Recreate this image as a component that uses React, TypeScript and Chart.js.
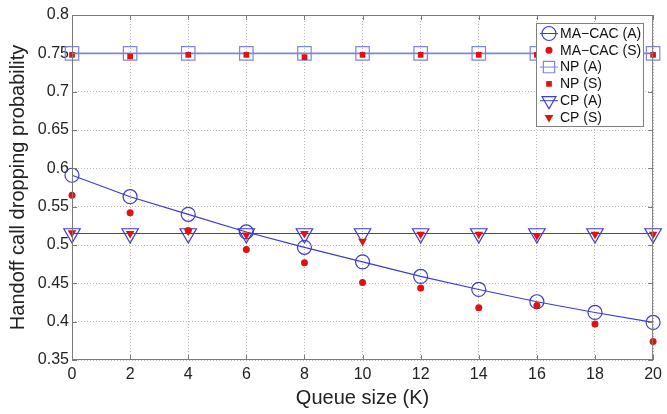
import React, { useEffect, useRef } from "react";
import { Chart, registerables } from "chart.js";

Chart.register(...registerables);

const queueSizes = [0, 2, 4, 6, 8, 10, 12, 14, 16, 18, 20];
const macacAnalytic = [0.591, 0.563, 0.54, 0.517, 0.497, 0.478, 0.459, 0.442, 0.426, 0.412, 0.399];
const macacSim = [0.565, 0.542, 0.519, 0.494, 0.477, 0.451, 0.444, 0.418, 0.421, 0.397, 0.374];
const npAnalytic = [0.75, 0.75, 0.75, 0.75, 0.75, 0.75, 0.75, 0.75, 0.75, 0.75, 0.75];
const npSim = [0.748, 0.746, 0.748, 0.748, 0.745, 0.748, 0.748, 0.748, 0.748, 0.748, 0.748];
const cpAnalytic = [0.515, 0.515, 0.515, 0.515, 0.515, 0.515, 0.515, 0.515, 0.515, 0.515, 0.515];
const cpSim = [0.516, 0.515, 0.518, 0.513, 0.515, 0.505, 0.514, 0.514, 0.512, 0.514, 0.514];
const legendLabels = ["MA\u2212CAC (A)", "MA\u2212CAC (S)", "NP (A)", "NP (S)", "CP (A)", "CP (S)"];
const xTicks = [0, 2, 4, 6, 8, 10, 12, 14, 16, 18, 20];
const yTicks = [0.35, 0.4, 0.45, 0.5, 0.55, 0.6, 0.65, 0.7, 0.75, 0.8];

const BLUE = "#3c3cd0";
const NPBLUE = "#7d86d8";
const RED = "#e41010";
const FONT = "'Liberation Sans', Arial, Helvetica, sans-serif";

const pts = (ys: number[]) => queueSizes.map((x, i) => ({ x, y: ys[i] }));

function marker(ctx: CanvasRenderingContext2D, style: string, r: number, x: number, y: number, fill: boolean) {
  ctx.beginPath();
  if (style === "circle") {
    ctx.arc(x, y, r, 0, Math.PI * 2);
  } else if (style === "rect") {
    const s = r * Math.SQRT1_2;
    ctx.rect(x - s, y - s, 2 * s, 2 * s);
  } else {
    const h = (Math.sqrt(3) / 2) * r;
    ctx.moveTo(x - h, y - r / 2);
    ctx.lineTo(x + h, y - r / 2);
    ctx.lineTo(x, y + r);
    ctx.closePath();
  }
  if (fill) ctx.fill();
  else ctx.stroke();
}

const frameAndLegend = {
  id: "frameAndLegend",
  afterDraw(chart: any) {
    const { ctx, chartArea, scales } = chart;
    const { left, right, top, bottom } = chartArea;
    ctx.save();
    ctx.strokeStyle = "#7a7a7a";
    ctx.lineWidth = 1;
    ctx.strokeRect(left + 0.5, top + 0.5, right - left - 1, bottom - top - 1);
    // inward tick marks
    ctx.beginPath();
    xTicks.forEach((v) => {
      const px = Math.round(scales.x.getPixelForValue(v)) + 0.5;
      ctx.moveTo(px, bottom);
      ctx.lineTo(px, bottom - 5);
      ctx.moveTo(px, top);
      ctx.lineTo(px, top + 5);
    });
    yTicks.forEach((v) => {
      const py = Math.round(scales.y.getPixelForValue(v)) + 0.5;
      ctx.moveTo(left, py);
      ctx.lineTo(left + 5, py);
      ctx.moveTo(right, py);
      ctx.lineTo(right - 5, py);
    });
    ctx.stroke();

    // legend
    const bx = 536, by = 23, bw = 107, bh = 103;
    ctx.fillStyle = "#ffffff";
    ctx.fillRect(bx, by, bw, bh);
    ctx.strokeStyle = "#808080";
    ctx.strokeRect(bx + 0.5, by + 0.5, bw, bh);
    const rowY0 = 33.5, rowH = 16.8;
    chart.data.datasets.forEach((ds: any, i: number) => {
      const y = rowY0 + i * rowH;
      const mx = 549;
      if (ds.showLine) {
        ctx.strokeStyle = ds.borderColor;
        ctx.lineWidth = 1;
        ctx.beginPath();
        ctx.moveTo(540, y);
        ctx.lineTo(558, y);
        ctx.stroke();
      }
      const filled = !ds.showLine;
      ctx.strokeStyle = ds.pointBorderColor;
      ctx.fillStyle = ds.pointBackgroundColor;
      ctx.lineWidth = 1.2;
      marker(ctx, ds.pointStyle, Math.min(ds.pointRadius, 8), mx, y, filled);
      ctx.fillStyle = "#111";
      ctx.font = `14px ${FONT}`;
      ctx.textBaseline = "middle";
      ctx.textAlign = "left";
      ctx.fillText(legendLabels[i], 560, y + 0.5);
    });
    ctx.restore();
  },
};

export default function App() {
  const ref = useRef<HTMLCanvasElement>(null);
  useEffect(() => {
    const chart = new Chart(ref.current!, {
      type: "scatter",
      data: {
        datasets: [
          { label: legendLabels[0], data: pts(macacAnalytic), showLine: true, borderColor: BLUE, borderWidth: 1.2, pointStyle: "circle", pointRadius: 7, pointBorderColor: BLUE, pointBackgroundColor: "rgba(0,0,0,0)", pointBorderWidth: 1.2, order: 2, clip: false },
          { label: legendLabels[1], data: pts(macacSim), showLine: false, pointStyle: "circle", pointRadius: 3.5, pointBorderColor: RED, pointBackgroundColor: RED, pointBorderWidth: 0, order: 1, clip: false },
          { label: legendLabels[2], data: pts(npAnalytic), showLine: true, borderColor: NPBLUE, borderWidth: 1.6, pointStyle: "rect", pointRadius: 9.5, pointBorderColor: NPBLUE, pointBackgroundColor: "rgba(0,0,0,0)", pointBorderWidth: 1.2, order: 2, clip: false },
          { label: legendLabels[3], data: pts(npSim), showLine: false, pointStyle: "rect", pointRadius: 4, pointBorderColor: RED, pointBackgroundColor: RED, pointBorderWidth: 0, order: 1, clip: false },
          { label: legendLabels[4], data: pts(cpAnalytic), showLine: true, borderColor: BLUE, borderWidth: 1.2, pointStyle: "triangle", pointRotation: 180, pointRadius: 9.5, pointBorderColor: BLUE, pointBackgroundColor: "rgba(0,0,0,0)", pointBorderWidth: 1.2, order: 2, clip: false },
          { label: legendLabels[5], data: pts(cpSim), showLine: false, pointStyle: "triangle", pointRotation: 180, pointRadius: 5, pointBorderColor: RED, pointBackgroundColor: RED, pointBorderWidth: 0, order: 1, clip: false },
        ] as any,
      },
      options: {
        animation: false,
        responsive: false,
        maintainAspectRatio: false,
        layout: { padding: { top: 15, right: 13, left: 0, bottom: 0 } },
        plugins: { legend: { display: false }, tooltip: { enabled: false } },
        scales: {
          x: {
            type: "linear",
            min: 0,
            max: 20,
            afterBuildTicks: (s: any) => { s.ticks = xTicks.map((v) => ({ value: v })); },
            afterFit: (s: any) => { s.height = 54; },
            ticks: { color: "#222", font: { family: FONT, size: 16 }, padding: 5, maxRotation: 0 },
            grid: { color: "#b8b8b8", drawTicks: false, lineWidth: 1 },
            border: { display: false, dash: [1, 2] } as any,
            title: { display: true, text: "Queue size (K)", color: "#222", font: { family: FONT, size: 20 }, padding: { top: 0, bottom: 4 } },
          },
          y: {
            type: "linear",
            min: 0.35,
            max: 0.8,
            afterBuildTicks: (s: any) => { s.ticks = yTicks.map((v) => ({ value: v })); },
            afterFit: (s: any) => { s.width = 72; },
            ticks: { color: "#222", font: { family: FONT, size: 16 }, padding: 3, callback: (v: any) => String(Number(Number(v).toFixed(2))) },
            grid: { color: "#b8b8b8", drawTicks: false, lineWidth: 1 },
            border: { display: false, dash: [1, 2] } as any,
            title: { display: true, text: "Handoff call dropping probability", color: "#222", font: { family: FONT, size: 20 }, padding: { top: 6, bottom: 0 } },
          },
        },
      } as any,
      plugins: [frameAndLegend],
    });
    return () => chart.destroy();
  }, []);
  return (
    <div style={{ position: "absolute", left: 0, top: 0, width: 667, height: 414, background: "#fff" }}>
      <canvas ref={ref} width={667} height={414} style={{ width: 667, height: 414, display: "block" }} />
    </div>
  );
}
